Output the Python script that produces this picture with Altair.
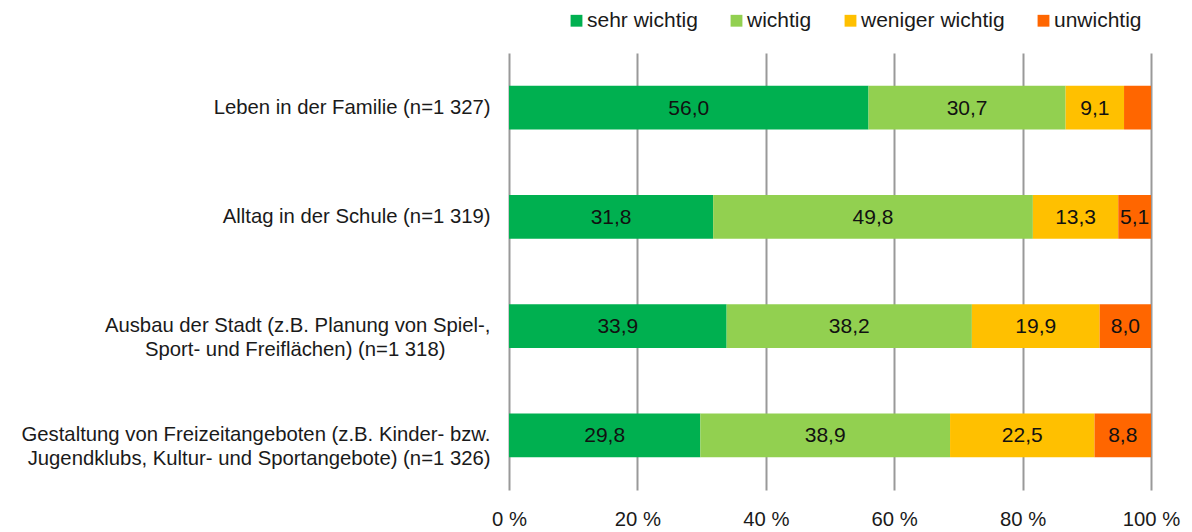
import altair as alt
import pandas as pd

NBSP = "\u00a0"
ZWSP = "\u200b"

categories = [
    "Leben in der Familie (n=1 327)",
    "Alltag in der Schule (n=1 319)",
    "Ausbau der Stadt (z.B. Planung von Spiel-,|Sport- und Freiflächen) (n=1 318)" + NBSP * 8 + ZWSP,
    "Gestaltung von Freizeitangeboten (z.B. Kinder- bzw.|Jugendklubs, Kultur- und Sportangebote) (n=1 326)",
]
series = ["sehr wichtig", "wichtig", "weniger wichtig", "unwichtig"]
colors = ["#00B050", "#92D050", "#FFC000", "#FF6600"]

sehr_wichtig = [56.0, 31.8, 33.9, 29.8]
wichtig = [30.7, 49.8, 38.2, 38.9]
weniger_wichtig = [9.1, 13.3, 19.9, 22.5]
unwichtig = [4.2, 5.1, 8.0, 8.8]
show_unwichtig_label = [False, True, True, True]

rows = []
for i, cat in enumerate(categories):
    for j, (s, vals) in enumerate(zip(series, [sehr_wichtig, wichtig, weniger_wichtig, unwichtig])):
        show = True if j < 3 else show_unwichtig_label[i]
        rows.append({"cat": cat, "series": s, "order": j, "value": vals[i], "show": show})
df = pd.DataFrame(rows)

FONT = "Liberation Sans"
FS = 20.3
TXT = "#1a1a1a"

base = alt.Chart(df).transform_stack(
    stack="value", groupby=["cat"], as_=["v0", "v1"], sort=[alt.SortField("order")]
).transform_calculate(
    mid="(datum.v0 + datum.v1) / 2",
    lbl="replace(format(datum.value, '.1f'), '.', ',')",
)

yenc = alt.Y(
    "cat:N",
    sort=categories,
    scale=alt.Scale(paddingInner=0.6, paddingOuter=0.3),
    axis=alt.Axis(
        title=None,
        labelExpr="split(datum.label, '|')",
        labelFont=FONT,
        labelFontSize=FS,
        labelColor=TXT,
        labelPadding=19,
        labelLineHeight=24,
        labelLimit=700,
        ticks=False,
        domain=False,
        grid=False,
    ),
)

bars = base.mark_bar().encode(
    x=alt.X(
        "v0:Q",
        scale=alt.Scale(domain=[0, 100], nice=False),
        axis=alt.Axis(
            title=None,
            values=[0, 20, 40, 60, 80, 100],
            labelExpr="datum.value + ' %'",
            labelFont=FONT,
            labelFontSize=FS,
            labelColor=TXT,
            labelPadding=19,
            labelFlush=False,
            ticks=False,
            domain=False,
            grid=True,
            gridColor="#999999",
            gridWidth=2,
        ),
    ),
    x2="v1:Q",
    y=yenc,
    color=alt.Color(
        "series:N",
        sort=series,
        scale=alt.Scale(domain=series, range=colors),
        legend=alt.Legend(
            title=None,
            orient="none",
            direction="horizontal",
            legendX=57,
            legendY=-43,
            symbolType="square",
            symbolSize=140,
            symbolStrokeWidth=0,
            labelFont=FONT,
            labelFontSize=21,
            labelColor=TXT,
            columnPadding=28,
            labelOffset=0,
            padding=0,
        ),
    ),
    order=alt.Order("order:Q"),
)

text = base.transform_filter("datum.show").mark_text(
    font=FONT, fontSize=21, color="#111111", baseline="middle", align="center", dy=1
).encode(
    x=alt.X("mid:Q"),
    y=alt.Y("cat:N", sort=categories),
    text="lbl:N",
)

chart = (
    alt.layer(bars, text)
    .properties(
        width=642,
        height=437,
        autosize=alt.AutoSizeParams(type="none"),
        padding={"left": 501, "top": 45, "right": 30, "bottom": 40},
    )
    .configure_view(stroke=None)
)

chart.save("out.html", embed_options={"renderer": "svg", "actions": False})
